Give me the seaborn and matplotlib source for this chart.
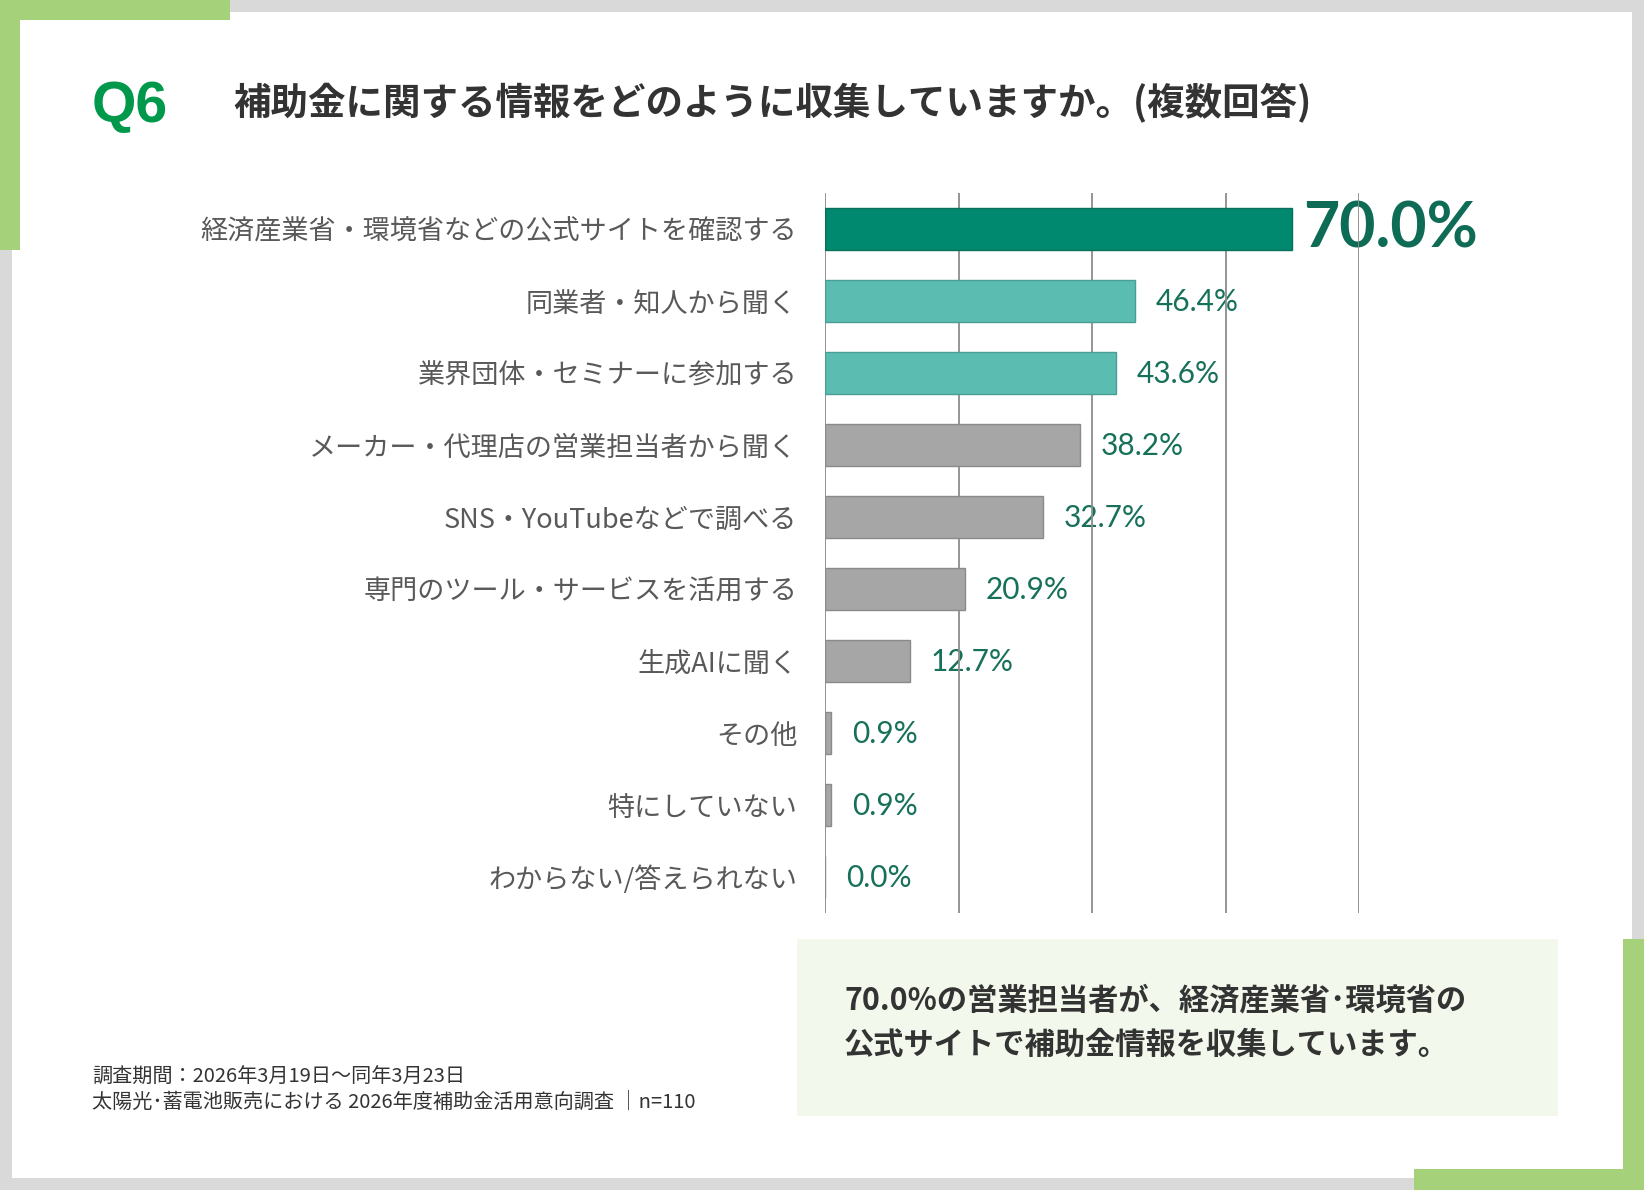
import matplotlib
matplotlib.use("Agg")
import matplotlib.pyplot as plt
from matplotlib.patches import Rectangle
import seaborn as sns
import pandas as pd

# データ
categories = [
    "経済産業省・環境省などの公式サイトを確認する",
    "同業者・知人から聞く",
    "業界団体・セミナーに参加する",
    "メーカー・代理店の営業担当者から聞く",
    "SNS・YouTubeなどで調べる",
    "専門のツール・サービスを活用する",
    "生成AIに聞く",
    "その他",
    "特にしていない",
    "わからない/答えられない",
]
values = [70.0, 46.4, 43.6, 38.2, 32.7, 20.9, 12.7, 0.9, 0.9, 0.0]
value_labels = ["70.0%", "46.4%", "43.6%", "38.2%", "32.7%", "20.9%", "12.7%", "0.9%", "0.9%", "0.0%"]
bar_colors = ["#00896F", "#5BBDB2", "#5BBDB2"] + ["#A6A6A6"] * 7
edge_colors = ["#0A6E5A", "#4A9E95", "#4A9E95"] + ["#8A8A8A"] * 7

title_q = "Q6"
title = "補助金に関する情報をどのように収集していますか。(複数回答)"
note_lines = ["70.0%の営業担当者が、経済産業省･環境省の", "公式サイトで補助金情報を収集しています。"]
footer_lines = ["調査期間：2026年3月19日～同年3月23日",
                "太陽光･蓄電池販売における 2026年度補助金活用意向調査 │n=110"]

df = pd.DataFrame({"項目": categories, "割合": values})

sns.set_style("white")
plt.rcParams["font.family"] = ["Noto Sans CJK JP", "DejaVu Sans"]

W, H = 1644, 1190
fig = plt.figure(figsize=(W / 100, H / 100), dpi=100)
fig.patch.set_facecolor("white")

# 枠（グレー + 緑のL字）
def rect(x, y, w, h, color):
    fig.add_artist(Rectangle((x / W, 1 - (y + h) / H), w / W, h / H,
                             transform=fig.transFigure, color=color, lw=0, zorder=0))

gray = "#D9D9D9"
green = "#A4D17A"
rect(0, 0, W, 12, gray)
rect(0, H - 12, W, 12, gray)
rect(0, 0, 12, H, gray)
rect(W - 12, 0, 12, H, gray)
rect(0, 0, 230, 20, green)
rect(0, 0, 20, 250, green)
rect(W - 21, 939, 21, H - 939, green)
rect(1414, H - 21, W - 1414, 21, green)
# まとめボックス
rect(797, 939, 1558 - 797, 1116 - 939, "#F2F8EC")

# グラフ本体
ax = fig.add_axes([825 / W, (H - 913) / H, 534 / W, 720 / H])
sns.barplot(data=df, x="割合", y="項目", hue="項目", palette=bar_colors,
            saturation=1, legend=False, width=0.58, ax=ax, zorder=1)
for patch, ec in zip(ax.patches, edge_colors):
    patch.set_edgecolor(ec)
    patch.set_linewidth(1.0)

ax.set_xlim(0, 80)
ax.set_xticks([0, 20, 40, 60, 80])
ax.set_axisbelow(True)
ax.grid(axis="x", color="#8C8C8C", lw=1.3)
ax.grid(axis="y", visible=False)
ax.tick_params(axis="x", length=0, labelbottom=False)
ax.tick_params(axis="y", length=0, pad=20, labelsize=19.5, labelcolor="#595959")
for s in ax.spines.values():
    s.set_visible(False)
ax.set_xlabel("")
ax.set_ylabel("")

# 値ラベル
for i, (v, lab) in enumerate(zip(values, value_labels)):
    if i == 0:
        ax.annotate(lab, (v, i), xytext=(8, 0), textcoords="offset points",
                    va="center", ha="left", fontsize=45, fontweight="bold",
                    color="#0E6B55", family=["Lato", "DejaVu Sans"], zorder=0.3)
    else:
        ax.annotate(lab, (v, i), xytext=(15, -1), textcoords="offset points",
                    va="center", ha="left", fontsize=21.5,
                    color="#17705A", family=["Lato", "DejaVu Sans"], zorder=0.3)

# タイトル
fig.text(92 / W, 1 - 122 / H, title_q, fontsize=41, fontweight="bold",
         color="#00994C", family=["Liberation Sans", "DejaVu Sans"], va="baseline")
fig.text(233 / W, 1 - 103 / H, title, fontsize=27, fontweight="bold",
         color="#333333", va="center")

# まとめ文
for k, line in enumerate(note_lines):
    fig.text(844 / W, 1 - (1000 + 45 * k) / H, line, fontsize=21.8,
             fontweight="bold", color="#333333", va="center")

# 出典
for k, line in enumerate(footer_lines):
    fig.text(92 / W, 1 - (1077 + 25 * k) / H, line, fontsize=14.5,
             color="#333333", va="center")

fig.savefig("out.png", dpi=100, facecolor=fig.get_facecolor())
